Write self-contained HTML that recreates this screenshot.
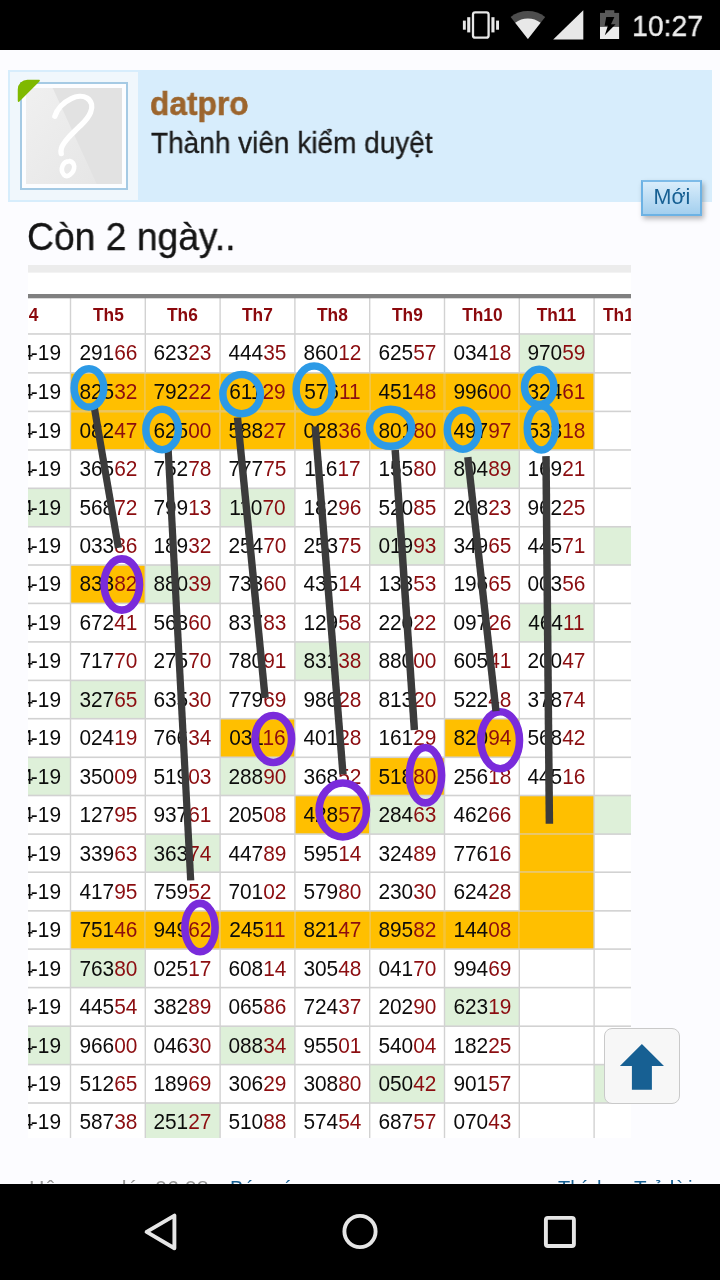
<!DOCTYPE html>
<html lang="vi">
<head>
<meta charset="utf-8">
<title>datpro</title>
<style>
html,body{margin:0;padding:0}
body{width:720px;height:1280px;overflow:hidden;position:relative;background:#fcfcff;
  font-family:"Liberation Sans",sans-serif;color:#141414}
.abs{position:absolute}
/* status bar */
#status{position:absolute;left:0;top:0;width:720px;height:50px;background:#000}
#clock{will-change:transform;position:absolute;left:632.4px;top:7px;width:80px;height:36px;line-height:36px;
  font-size:30.4px;color:#ececec;white-space:nowrap;transform-origin:0 50%;transform:scaleX(.934);-webkit-text-stroke:.35px #ececec}
/* user card */
#card{position:absolute;left:8px;top:70px;width:704px;height:132px;background:#d7edfc}
#avh{position:absolute;left:2px;top:2px;width:128px;height:128px;background:#f0f7fc}
#avf{position:absolute;left:10px;top:10px;width:104px;height:104px;border:2px solid #a5cae4;background:#fcfdff}
#avi{position:absolute;left:4px;top:4px;width:96px;height:96px;background:#e2e2e2}
#uname{will-change:transform;position:absolute;left:142.4px;top:13.6px;font-weight:bold;font-size:33px;line-height:40px;color:#9c652d;-webkit-text-stroke:.5px #9c652d;
  white-space:nowrap;transform-origin:0 50%;transform:scaleX(.96)}
#utitle{will-change:transform;position:absolute;left:142.6px;top:55px;font-size:28.6px;line-height:36px;color:#1b1b1b;-webkit-text-stroke:.3px #1b1b1b;
  white-space:nowrap;transform-origin:0 50%;transform:scaleX(.979)}
#new{will-change:transform;position:absolute;left:641px;top:180px;width:57px;height:31.5px;border:2px solid #6cb2e4;border-top-color:#7dbbe8;
  background:linear-gradient(#d9edfb,#a3cfee);box-shadow:2px 3px 5px rgba(0,0,0,.28);
  font-size:22.2px;line-height:29.4px;text-align:center;color:#176093}
#new span{display:inline-block;transform:scaleX(.97)}
#msg{will-change:transform;position:absolute;left:27.4px;top:214px;font-size:38px;line-height:46px;color:#141414;-webkit-text-stroke:.35px #141414;white-space:nowrap;
  transform-origin:0 50%;transform:scaleX(.981)}
/* image */
#img{position:absolute;left:28px;top:265px;width:603px;height:873px;overflow:hidden;background:#fff}
#img svg.grid{position:absolute;left:0;top:0;display:block}
#cells{position:absolute;left:0;top:0;width:603px;height:873px;will-change:transform}
.c{position:absolute;text-align:center;font-size:21.8px;color:#0c0c0c;white-space:nowrap;transform:scaleX(.957)}
.c.d{transform-origin:100% 50%}
.c u{text-decoration:none;letter-spacing:-2.4px}
.c i{font-style:normal;color:#8b0d10}
.c.h{font-weight:bold;font-size:19px;color:#8b080c;transform:scaleX(.912)}
#annot{position:absolute;left:0;top:0;width:720px;height:1280px;pointer-events:none}
/* footer of post */
#foot{will-change:transform;position:absolute;left:0;top:1173px;width:720px;height:30px;font-size:20px;line-height:30px;white-space:nowrap}
#foot span{position:absolute;top:0;transform-origin:0 50%}
/* nav bar */
#nav{position:absolute;left:0;top:1184px;width:720px;height:96px;background:#000}
#top{position:absolute;left:604.3px;top:1028.1px;width:73.8px;height:73.6px;border:1px solid #c9c9c9;border-radius:8px;background:#f7f7f7;overflow:hidden}
</style>
</head>
<body>
<!-- ===== status bar ===== -->
<div id="status">
<svg class="abs" style="left:0;top:0" width="720" height="50" viewBox="0 0 720 50">
  <!-- vibrate -->
  <rect x="473" y="12.4" width="15.6" height="25.2" rx="2.2" fill="none" stroke="#e8e8e8" stroke-width="2.3"/>
  <rect x="467.2" y="17.2" width="3.1" height="15.2" fill="#e8e8e8"/>
  <rect x="491.4" y="17.2" width="3.1" height="15.2" fill="#e8e8e8"/>
  <rect x="462.9" y="20.6" width="2.9" height="9.1" fill="#e8e8e8"/>
  <rect x="496.1" y="20.6" width="2.9" height="9.1" fill="#e8e8e8"/>
  <!-- wifi -->
  <path d="M510.6 17 A28 28 0 0 1 545.2 17 L527.9 38.9 Z" fill="#4d4d4d"/>
  <path d="M515.2 22.8 A20.5 20.5 0 0 1 540.6 22.8 L527.9 38.9 Z" fill="#e8e8e8"/>
  <!-- signal -->
  <path d="M553.2 39.6 L583.3 39.6 L583.3 10.2 Z" fill="#e8e8e8"/>
  <!-- battery -->
  <rect x="605" y="10.2" width="9.3" height="4" fill="#595959"/>
  <rect x="600" y="12.9" width="19.1" height="14.2" fill="#595959"/>
  <rect x="600" y="26.9" width="19.1" height="12.1" fill="#ececec"/>
  <path d="M606.25 17.1 L614.4 17.1 L611 24.2 L615.6 24.2 L604.8 35.2 L607.9 25.8 L604.6 25.8 Z" fill="#000"/>
</svg>

<div id="clock">10:27</div>
</div>

<!-- ===== user card ===== -->
<div id="card">
  <div id="avh">
    <div id="avf"><div id="avi"><svg class="abs" style="left:0;top:0" width="96" height="96" viewBox="0 0 96 96">
  <defs><linearGradient id="avg" x1="0" y1="0" x2="1" y2="1"><stop offset="0" stop-color="#f0f0f0"/><stop offset="1" stop-color="#e6e6e6"/></linearGradient></defs>
  <path d="M0 0 L26.7 0 L70.7 96 L0 96 Z" fill="url(#avg)"/>
  <path d="M28.9 28.2 C31 21.5 37 14.6 45.3 10.6 C50 8.2 56.6 7.4 61 10 C66 13.2 66.8 19 64.6 24.2 C62 31 57 35 53.3 38.7 C48 44 45 46.5 42.7 49.3 C39 53.5 36.6 56.5 35.5 60 C34.8 62.3 34.8 64 35.2 65.6" fill="none" stroke="#fff" stroke-width="5.4" stroke-linecap="round"/>
  <path d="M43.8 73.2 C40.6 73 38 74.6 36.8 77.2 C35.4 80.4 35.8 84.2 37.8 86.6 C39.6 88.6 42 88.4 44 86.8 C46.8 84.6 48.4 81.4 48.2 78.2 C48 75.6 46.2 73.8 43.6 73" fill="none" stroke="#fff" stroke-width="4.6" stroke-linecap="round"/>
</svg>
</div></div>
    <svg class="abs" style="left:7px;top:7px" width="26" height="26" viewBox="17 79 26 26">
  <path d="M19.4 101.4 C18.4 102.4 17.75 101.8 17.75 100.6 L17.75 89.5 A9.75 9.75 0 0 1 27.5 79.75 L38.6 79.75 C39.8 79.75 40.4 80.4 39.4 81.4 Z" fill="#7fb900"/>
</svg>

  </div>
  <div id="uname">datpro</div>
  <div id="utitle">Thành viên kiểm duyệt</div>
</div>
<div id="new"><span>Mới</span></div>

<div id="msg">Còn 2 ngày..</div>

<!-- ===== table image ===== -->
<div id="img">
<svg class="grid" width="603" height="873" viewBox="28 265 603 873">
<rect x="28" y="265" width="603" height="873" fill="#fff"/>
<rect x="28" y="265" width="603" height="7.6" fill="#ececec"/>
<rect x="519.30" y="333.97" width="74.80" height="38.88" fill="#def0d9"/>
<rect x="70.50" y="372.85" width="74.80" height="38.55" fill="#ffbf00"/>
<rect x="70.50" y="411.40" width="74.80" height="38.57" fill="#ffbf00"/>
<rect x="70.50" y="910.86" width="74.80" height="38.24" fill="#ffbf00"/>
<rect x="145.30" y="372.85" width="74.80" height="38.55" fill="#ffbf00"/>
<rect x="145.30" y="411.40" width="74.80" height="38.57" fill="#ffbf00"/>
<rect x="145.30" y="910.86" width="74.80" height="38.24" fill="#ffbf00"/>
<rect x="220.10" y="372.85" width="74.80" height="38.55" fill="#ffbf00"/>
<rect x="220.10" y="411.40" width="74.80" height="38.57" fill="#ffbf00"/>
<rect x="220.10" y="910.86" width="74.80" height="38.24" fill="#ffbf00"/>
<rect x="294.90" y="372.85" width="74.80" height="38.55" fill="#ffbf00"/>
<rect x="294.90" y="411.40" width="74.80" height="38.57" fill="#ffbf00"/>
<rect x="294.90" y="910.86" width="74.80" height="38.24" fill="#ffbf00"/>
<rect x="369.70" y="372.85" width="74.80" height="38.55" fill="#ffbf00"/>
<rect x="369.70" y="411.40" width="74.80" height="38.57" fill="#ffbf00"/>
<rect x="369.70" y="910.86" width="74.80" height="38.24" fill="#ffbf00"/>
<rect x="444.50" y="372.85" width="74.80" height="38.55" fill="#ffbf00"/>
<rect x="444.50" y="411.40" width="74.80" height="38.57" fill="#ffbf00"/>
<rect x="444.50" y="910.86" width="74.80" height="38.24" fill="#ffbf00"/>
<rect x="519.30" y="372.85" width="74.80" height="38.55" fill="#ffbf00"/>
<rect x="519.30" y="411.40" width="74.80" height="38.57" fill="#ffbf00"/>
<rect x="519.30" y="910.86" width="74.80" height="38.24" fill="#ffbf00"/>
<rect x="444.50" y="449.97" width="74.80" height="38.33" fill="#def0d9"/>
<rect x="-25.50" y="488.30" width="96.00" height="38.46" fill="#def0d9"/>
<rect x="220.10" y="488.30" width="74.80" height="38.46" fill="#def0d9"/>
<rect x="369.70" y="526.76" width="74.80" height="38.24" fill="#def0d9"/>
<rect x="594.10" y="526.76" width="74.80" height="38.24" fill="#def0d9"/>
<rect x="70.50" y="565.00" width="74.80" height="38.40" fill="#ffbf00"/>
<rect x="145.30" y="565.00" width="74.80" height="38.40" fill="#def0d9"/>
<rect x="519.30" y="603.40" width="74.80" height="38.50" fill="#def0d9"/>
<rect x="294.90" y="641.90" width="74.80" height="38.50" fill="#def0d9"/>
<rect x="70.50" y="680.40" width="74.80" height="38.30" fill="#def0d9"/>
<rect x="220.10" y="718.70" width="74.80" height="38.60" fill="#ffbf00"/>
<rect x="444.50" y="718.70" width="74.80" height="38.60" fill="#ffbf00"/>
<rect x="-25.50" y="757.30" width="96.00" height="38.20" fill="#def0d9"/>
<rect x="220.10" y="757.30" width="74.80" height="38.20" fill="#def0d9"/>
<rect x="369.70" y="757.30" width="74.80" height="38.20" fill="#ffbf00"/>
<rect x="294.90" y="795.50" width="74.80" height="38.60" fill="#ffbf00"/>
<rect x="369.70" y="795.50" width="74.80" height="38.60" fill="#def0d9"/>
<rect x="519.30" y="795.50" width="74.80" height="38.60" fill="#ffbf00"/>
<rect x="594.10" y="795.50" width="74.80" height="38.60" fill="#def0d9"/>
<rect x="145.30" y="834.10" width="74.80" height="38.10" fill="#def0d9"/>
<rect x="519.30" y="834.10" width="74.80" height="38.10" fill="#ffbf00"/>
<rect x="519.30" y="872.20" width="74.80" height="38.66" fill="#ffbf00"/>
<rect x="70.50" y="949.10" width="74.80" height="38.50" fill="#def0d9"/>
<rect x="444.50" y="987.60" width="74.80" height="38.60" fill="#def0d9"/>
<rect x="-25.50" y="1026.20" width="96.00" height="38.40" fill="#def0d9"/>
<rect x="220.10" y="1026.20" width="74.80" height="38.40" fill="#def0d9"/>
<rect x="369.70" y="1064.60" width="74.80" height="38.40" fill="#def0d9"/>
<rect x="594.10" y="1064.60" width="74.80" height="38.40" fill="#def0d9"/>
<rect x="145.30" y="1103.00" width="74.80" height="38.50" fill="#def0d9"/>
<rect x="69.80" y="298" width="1.4" height="844" fill="#d2d2d2"/>
<rect x="144.60" y="298" width="1.4" height="844" fill="#d2d2d2"/>
<rect x="219.40" y="298" width="1.4" height="844" fill="#d2d2d2"/>
<rect x="294.20" y="298" width="1.4" height="844" fill="#d2d2d2"/>
<rect x="369.00" y="298" width="1.4" height="844" fill="#d2d2d2"/>
<rect x="443.80" y="298" width="1.4" height="844" fill="#d2d2d2"/>
<rect x="518.60" y="298" width="1.4" height="844" fill="#d2d2d2"/>
<rect x="593.40" y="298" width="1.4" height="844" fill="#d2d2d2"/>
<rect x="668.20" y="298" width="1.4" height="844" fill="#d2d2d2"/>
<rect x="28" y="333.17" width="603" height="1.6" fill="#d2d2d2"/>
<rect x="28" y="372.05" width="603" height="1.6" fill="#d2d2d2"/>
<rect x="28" y="410.60" width="603" height="1.6" fill="#d2d2d2"/>
<rect x="28" y="449.17" width="603" height="1.6" fill="#d2d2d2"/>
<rect x="28" y="487.50" width="603" height="1.6" fill="#d2d2d2"/>
<rect x="28" y="525.96" width="603" height="1.6" fill="#d2d2d2"/>
<rect x="28" y="564.20" width="603" height="1.6" fill="#d2d2d2"/>
<rect x="28" y="602.60" width="603" height="1.6" fill="#d2d2d2"/>
<rect x="28" y="641.10" width="603" height="1.6" fill="#d2d2d2"/>
<rect x="28" y="679.60" width="603" height="1.6" fill="#d2d2d2"/>
<rect x="28" y="717.90" width="603" height="1.6" fill="#d2d2d2"/>
<rect x="28" y="756.50" width="603" height="1.6" fill="#d2d2d2"/>
<rect x="28" y="794.70" width="603" height="1.6" fill="#d2d2d2"/>
<rect x="28" y="833.30" width="603" height="1.6" fill="#d2d2d2"/>
<rect x="28" y="871.40" width="603" height="1.6" fill="#d2d2d2"/>
<rect x="28" y="910.06" width="603" height="1.6" fill="#d2d2d2"/>
<rect x="28" y="948.30" width="603" height="1.6" fill="#d2d2d2"/>
<rect x="28" y="986.80" width="603" height="1.6" fill="#d2d2d2"/>
<rect x="28" y="1025.40" width="603" height="1.6" fill="#d2d2d2"/>
<rect x="28" y="1063.80" width="603" height="1.6" fill="#d2d2d2"/>
<rect x="28" y="1102.20" width="603" height="1.6" fill="#d2d2d2"/>
<rect x="28" y="1140.70" width="603" height="1.6" fill="#d2d2d2"/>
<rect x="144.60" y="373.65" width="1.4" height="36.95" fill="#f7c433"/>
<rect x="71.20" y="410.60" width="74.80" height="1.6" fill="#ecc55f"/>
<rect x="144.60" y="412.20" width="1.4" height="36.97" fill="#f7c433"/>
<rect x="144.60" y="911.66" width="1.4" height="36.64" fill="#f7c433"/>
<rect x="219.40" y="373.65" width="1.4" height="36.95" fill="#f7c433"/>
<rect x="144.60" y="410.60" width="76.20" height="1.6" fill="#ecc55f"/>
<rect x="219.40" y="412.20" width="1.4" height="36.97" fill="#f7c433"/>
<rect x="219.40" y="911.66" width="1.4" height="36.64" fill="#f7c433"/>
<rect x="294.20" y="373.65" width="1.4" height="36.95" fill="#f7c433"/>
<rect x="219.40" y="410.60" width="76.20" height="1.6" fill="#ecc55f"/>
<rect x="294.20" y="412.20" width="1.4" height="36.97" fill="#f7c433"/>
<rect x="294.20" y="911.66" width="1.4" height="36.64" fill="#f7c433"/>
<rect x="369.00" y="373.65" width="1.4" height="36.95" fill="#f7c433"/>
<rect x="294.20" y="410.60" width="76.20" height="1.6" fill="#ecc55f"/>
<rect x="369.00" y="412.20" width="1.4" height="36.97" fill="#f7c433"/>
<rect x="369.00" y="911.66" width="1.4" height="36.64" fill="#f7c433"/>
<rect x="443.80" y="373.65" width="1.4" height="36.95" fill="#f7c433"/>
<rect x="369.00" y="410.60" width="76.20" height="1.6" fill="#ecc55f"/>
<rect x="443.80" y="412.20" width="1.4" height="36.97" fill="#f7c433"/>
<rect x="443.80" y="911.66" width="1.4" height="36.64" fill="#f7c433"/>
<rect x="518.60" y="373.65" width="1.4" height="36.95" fill="#f7c433"/>
<rect x="443.80" y="410.60" width="76.20" height="1.6" fill="#ecc55f"/>
<rect x="518.60" y="412.20" width="1.4" height="36.97" fill="#f7c433"/>
<rect x="518.60" y="911.66" width="1.4" height="36.64" fill="#f7c433"/>
<rect x="518.60" y="410.60" width="74.80" height="1.6" fill="#ecc55f"/>
<rect x="520.00" y="833.30" width="73.40" height="1.6" fill="#ecc55f"/>
<rect x="520.00" y="871.40" width="73.40" height="1.6" fill="#ecc55f"/>
<rect x="520.00" y="910.06" width="73.40" height="1.6" fill="#ecc55f"/>
<rect x="28" y="294" width="603" height="4.3" fill="#808080"/>
</svg>
<div id="cells">
<div class="c h" style="left:-53.50px;top:32.00px;width:96.00px;height:35.97px;line-height:35.97px">Th4</div>
<div class="c h" style="left:42.50px;top:32.00px;width:74.80px;height:35.97px;line-height:35.97px">Th5</div>
<div class="c h" style="left:117.30px;top:32.00px;width:74.80px;height:35.97px;line-height:35.97px">Th6</div>
<div class="c h" style="left:192.10px;top:32.00px;width:74.80px;height:35.97px;line-height:35.97px">Th7</div>
<div class="c h" style="left:266.90px;top:32.00px;width:74.80px;height:35.97px;line-height:35.97px">Th8</div>
<div class="c h" style="left:341.70px;top:32.00px;width:74.80px;height:35.97px;line-height:35.97px">Th9</div>
<div class="c h" style="left:416.50px;top:32.00px;width:74.80px;height:35.97px;line-height:35.97px">Th10</div>
<div class="c h" style="left:491.30px;top:32.00px;width:74.80px;height:35.97px;line-height:35.97px">Th11</div>
<div class="c h" style="left:575.40px;top:32.00px;transform-origin:0 50%;height:35.97px;line-height:35.97px;text-align:left">Th12</div>
<div class="c d" style="left:-86.60px;top:69.37px;width:120px;height:38.879999999999995px;line-height:38.879999999999995px;text-align:right">01-0<u>4</u>-19</div>
<div class="c" style="left:42.50px;top:69.37px;width:74.80px;height:38.88px;line-height:38.88px">291<i>66</i></div>
<div class="c" style="left:117.30px;top:69.37px;width:74.80px;height:38.88px;line-height:38.88px">623<i>23</i></div>
<div class="c" style="left:192.10px;top:69.37px;width:74.80px;height:38.88px;line-height:38.88px">444<i>35</i></div>
<div class="c" style="left:266.90px;top:69.37px;width:74.80px;height:38.88px;line-height:38.88px">860<i>12</i></div>
<div class="c" style="left:341.70px;top:69.37px;width:74.80px;height:38.88px;line-height:38.88px">625<i>57</i></div>
<div class="c" style="left:416.50px;top:69.37px;width:74.80px;height:38.88px;line-height:38.88px">034<i>18</i></div>
<div class="c" style="left:491.30px;top:69.37px;width:74.80px;height:38.88px;line-height:38.88px">970<i>59</i></div>
<div class="c d" style="left:-86.60px;top:108.25px;width:120px;height:38.549999999999955px;line-height:38.549999999999955px;text-align:right">02-0<u>4</u>-19</div>
<div class="c" style="left:42.50px;top:108.25px;width:74.80px;height:38.55px;line-height:38.55px">825<i>32</i></div>
<div class="c" style="left:117.30px;top:108.25px;width:74.80px;height:38.55px;line-height:38.55px">792<i>22</i></div>
<div class="c" style="left:192.10px;top:108.25px;width:74.80px;height:38.55px;line-height:38.55px">611<i>29</i></div>
<div class="c" style="left:266.90px;top:108.25px;width:74.80px;height:38.55px;line-height:38.55px">576<i>11</i></div>
<div class="c" style="left:341.70px;top:108.25px;width:74.80px;height:38.55px;line-height:38.55px">451<i>48</i></div>
<div class="c" style="left:416.50px;top:108.25px;width:74.80px;height:38.55px;line-height:38.55px">996<i>00</i></div>
<div class="c" style="left:491.30px;top:108.25px;width:74.80px;height:38.55px;line-height:38.55px">324<i>61</i></div>
<div class="c d" style="left:-86.60px;top:146.80px;width:120px;height:38.57000000000005px;line-height:38.57000000000005px;text-align:right">03-0<u>4</u>-19</div>
<div class="c" style="left:42.50px;top:146.80px;width:74.80px;height:38.57px;line-height:38.57px">082<i>47</i></div>
<div class="c" style="left:117.30px;top:146.80px;width:74.80px;height:38.57px;line-height:38.57px">625<i>00</i></div>
<div class="c" style="left:192.10px;top:146.80px;width:74.80px;height:38.57px;line-height:38.57px">588<i>27</i></div>
<div class="c" style="left:266.90px;top:146.80px;width:74.80px;height:38.57px;line-height:38.57px">028<i>36</i></div>
<div class="c" style="left:341.70px;top:146.80px;width:74.80px;height:38.57px;line-height:38.57px">801<i>80</i></div>
<div class="c" style="left:416.50px;top:146.80px;width:74.80px;height:38.57px;line-height:38.57px">497<i>97</i></div>
<div class="c" style="left:491.30px;top:146.80px;width:74.80px;height:38.57px;line-height:38.57px">538<i>18</i></div>
<div class="c d" style="left:-86.60px;top:185.37px;width:120px;height:38.329999999999984px;line-height:38.329999999999984px;text-align:right">04-0<u>4</u>-19</div>
<div class="c" style="left:42.50px;top:185.37px;width:74.80px;height:38.33px;line-height:38.33px">365<i>62</i></div>
<div class="c" style="left:117.30px;top:185.37px;width:74.80px;height:38.33px;line-height:38.33px">752<i>78</i></div>
<div class="c" style="left:192.10px;top:185.37px;width:74.80px;height:38.33px;line-height:38.33px">777<i>75</i></div>
<div class="c" style="left:266.90px;top:185.37px;width:74.80px;height:38.33px;line-height:38.33px">116<i>17</i></div>
<div class="c" style="left:341.70px;top:185.37px;width:74.80px;height:38.33px;line-height:38.33px">155<i>80</i></div>
<div class="c" style="left:416.50px;top:185.37px;width:74.80px;height:38.33px;line-height:38.33px">804<i>89</i></div>
<div class="c" style="left:491.30px;top:185.37px;width:74.80px;height:38.33px;line-height:38.33px">169<i>21</i></div>
<div class="c d" style="left:-86.60px;top:223.70px;width:120px;height:38.45999999999998px;line-height:38.45999999999998px;text-align:right">05-0<u>4</u>-19</div>
<div class="c" style="left:42.50px;top:223.70px;width:74.80px;height:38.46px;line-height:38.46px">568<i>72</i></div>
<div class="c" style="left:117.30px;top:223.70px;width:74.80px;height:38.46px;line-height:38.46px">799<i>13</i></div>
<div class="c" style="left:192.10px;top:223.70px;width:74.80px;height:38.46px;line-height:38.46px">110<i>70</i></div>
<div class="c" style="left:266.90px;top:223.70px;width:74.80px;height:38.46px;line-height:38.46px">182<i>96</i></div>
<div class="c" style="left:341.70px;top:223.70px;width:74.80px;height:38.46px;line-height:38.46px">520<i>85</i></div>
<div class="c" style="left:416.50px;top:223.70px;width:74.80px;height:38.46px;line-height:38.46px">208<i>23</i></div>
<div class="c" style="left:491.30px;top:223.70px;width:74.80px;height:38.46px;line-height:38.46px">962<i>25</i></div>
<div class="c d" style="left:-86.60px;top:262.16px;width:120px;height:38.24000000000001px;line-height:38.24000000000001px;text-align:right">06-0<u>4</u>-19</div>
<div class="c" style="left:42.50px;top:262.16px;width:74.80px;height:38.24px;line-height:38.24px">033<i>86</i></div>
<div class="c" style="left:117.30px;top:262.16px;width:74.80px;height:38.24px;line-height:38.24px">189<i>32</i></div>
<div class="c" style="left:192.10px;top:262.16px;width:74.80px;height:38.24px;line-height:38.24px">254<i>70</i></div>
<div class="c" style="left:266.90px;top:262.16px;width:74.80px;height:38.24px;line-height:38.24px">253<i>75</i></div>
<div class="c" style="left:341.70px;top:262.16px;width:74.80px;height:38.24px;line-height:38.24px">019<i>93</i></div>
<div class="c" style="left:416.50px;top:262.16px;width:74.80px;height:38.24px;line-height:38.24px">349<i>65</i></div>
<div class="c" style="left:491.30px;top:262.16px;width:74.80px;height:38.24px;line-height:38.24px">445<i>71</i></div>
<div class="c d" style="left:-86.60px;top:300.40px;width:120px;height:38.39999999999998px;line-height:38.39999999999998px;text-align:right">07-0<u>4</u>-19</div>
<div class="c" style="left:42.50px;top:300.40px;width:74.80px;height:38.40px;line-height:38.40px">833<i>82</i></div>
<div class="c" style="left:117.30px;top:300.40px;width:74.80px;height:38.40px;line-height:38.40px">880<i>39</i></div>
<div class="c" style="left:192.10px;top:300.40px;width:74.80px;height:38.40px;line-height:38.40px">733<i>60</i></div>
<div class="c" style="left:266.90px;top:300.40px;width:74.80px;height:38.40px;line-height:38.40px">435<i>14</i></div>
<div class="c" style="left:341.70px;top:300.40px;width:74.80px;height:38.40px;line-height:38.40px">133<i>53</i></div>
<div class="c" style="left:416.50px;top:300.40px;width:74.80px;height:38.40px;line-height:38.40px">196<i>65</i></div>
<div class="c" style="left:491.30px;top:300.40px;width:74.80px;height:38.40px;line-height:38.40px">003<i>56</i></div>
<div class="c d" style="left:-86.60px;top:338.80px;width:120px;height:38.5px;line-height:38.5px;text-align:right">08-0<u>4</u>-19</div>
<div class="c" style="left:42.50px;top:338.80px;width:74.80px;height:38.50px;line-height:38.50px">672<i>41</i></div>
<div class="c" style="left:117.30px;top:338.80px;width:74.80px;height:38.50px;line-height:38.50px">563<i>60</i></div>
<div class="c" style="left:192.10px;top:338.80px;width:74.80px;height:38.50px;line-height:38.50px">837<i>83</i></div>
<div class="c" style="left:266.90px;top:338.80px;width:74.80px;height:38.50px;line-height:38.50px">129<i>58</i></div>
<div class="c" style="left:341.70px;top:338.80px;width:74.80px;height:38.50px;line-height:38.50px">220<i>22</i></div>
<div class="c" style="left:416.50px;top:338.80px;width:74.80px;height:38.50px;line-height:38.50px">097<i>26</i></div>
<div class="c" style="left:491.30px;top:338.80px;width:74.80px;height:38.50px;line-height:38.50px">464<i>11</i></div>
<div class="c d" style="left:-86.60px;top:377.30px;width:120px;height:38.5px;line-height:38.5px;text-align:right">09-0<u>4</u>-19</div>
<div class="c" style="left:42.50px;top:377.30px;width:74.80px;height:38.50px;line-height:38.50px">717<i>70</i></div>
<div class="c" style="left:117.30px;top:377.30px;width:74.80px;height:38.50px;line-height:38.50px">275<i>70</i></div>
<div class="c" style="left:192.10px;top:377.30px;width:74.80px;height:38.50px;line-height:38.50px">780<i>91</i></div>
<div class="c" style="left:266.90px;top:377.30px;width:74.80px;height:38.50px;line-height:38.50px">831<i>38</i></div>
<div class="c" style="left:341.70px;top:377.30px;width:74.80px;height:38.50px;line-height:38.50px">880<i>00</i></div>
<div class="c" style="left:416.50px;top:377.30px;width:74.80px;height:38.50px;line-height:38.50px">605<i>41</i></div>
<div class="c" style="left:491.30px;top:377.30px;width:74.80px;height:38.50px;line-height:38.50px">200<i>47</i></div>
<div class="c d" style="left:-86.60px;top:415.80px;width:120px;height:38.30000000000007px;line-height:38.30000000000007px;text-align:right">10-0<u>4</u>-19</div>
<div class="c" style="left:42.50px;top:415.80px;width:74.80px;height:38.30px;line-height:38.30px">327<i>65</i></div>
<div class="c" style="left:117.30px;top:415.80px;width:74.80px;height:38.30px;line-height:38.30px">635<i>30</i></div>
<div class="c" style="left:192.10px;top:415.80px;width:74.80px;height:38.30px;line-height:38.30px">779<i>69</i></div>
<div class="c" style="left:266.90px;top:415.80px;width:74.80px;height:38.30px;line-height:38.30px">986<i>28</i></div>
<div class="c" style="left:341.70px;top:415.80px;width:74.80px;height:38.30px;line-height:38.30px">813<i>20</i></div>
<div class="c" style="left:416.50px;top:415.80px;width:74.80px;height:38.30px;line-height:38.30px">522<i>48</i></div>
<div class="c" style="left:491.30px;top:415.80px;width:74.80px;height:38.30px;line-height:38.30px">378<i>74</i></div>
<div class="c d" style="left:-86.60px;top:454.10px;width:120px;height:38.59999999999991px;line-height:38.59999999999991px;text-align:right">11-0<u>4</u>-19</div>
<div class="c" style="left:42.50px;top:454.10px;width:74.80px;height:38.60px;line-height:38.60px">024<i>19</i></div>
<div class="c" style="left:117.30px;top:454.10px;width:74.80px;height:38.60px;line-height:38.60px">766<i>34</i></div>
<div class="c" style="left:192.10px;top:454.10px;width:74.80px;height:38.60px;line-height:38.60px">031<i>16</i></div>
<div class="c" style="left:266.90px;top:454.10px;width:74.80px;height:38.60px;line-height:38.60px">401<i>28</i></div>
<div class="c" style="left:341.70px;top:454.10px;width:74.80px;height:38.60px;line-height:38.60px">161<i>29</i></div>
<div class="c" style="left:416.50px;top:454.10px;width:74.80px;height:38.60px;line-height:38.60px">820<i>94</i></div>
<div class="c" style="left:491.30px;top:454.10px;width:74.80px;height:38.60px;line-height:38.60px">568<i>42</i></div>
<div class="c d" style="left:-86.60px;top:492.70px;width:120px;height:38.200000000000045px;line-height:38.200000000000045px;text-align:right">12-0<u>4</u>-19</div>
<div class="c" style="left:42.50px;top:492.70px;width:74.80px;height:38.20px;line-height:38.20px">350<i>09</i></div>
<div class="c" style="left:117.30px;top:492.70px;width:74.80px;height:38.20px;line-height:38.20px">519<i>03</i></div>
<div class="c" style="left:192.10px;top:492.70px;width:74.80px;height:38.20px;line-height:38.20px">288<i>90</i></div>
<div class="c" style="left:266.90px;top:492.70px;width:74.80px;height:38.20px;line-height:38.20px">368<i>52</i></div>
<div class="c" style="left:341.70px;top:492.70px;width:74.80px;height:38.20px;line-height:38.20px">518<i>80</i></div>
<div class="c" style="left:416.50px;top:492.70px;width:74.80px;height:38.20px;line-height:38.20px">256<i>18</i></div>
<div class="c" style="left:491.30px;top:492.70px;width:74.80px;height:38.20px;line-height:38.20px">445<i>16</i></div>
<div class="c d" style="left:-86.60px;top:530.90px;width:120px;height:38.60000000000002px;line-height:38.60000000000002px;text-align:right">13-0<u>4</u>-19</div>
<div class="c" style="left:42.50px;top:530.90px;width:74.80px;height:38.60px;line-height:38.60px">127<i>95</i></div>
<div class="c" style="left:117.30px;top:530.90px;width:74.80px;height:38.60px;line-height:38.60px">937<i>61</i></div>
<div class="c" style="left:192.10px;top:530.90px;width:74.80px;height:38.60px;line-height:38.60px">205<i>08</i></div>
<div class="c" style="left:266.90px;top:530.90px;width:74.80px;height:38.60px;line-height:38.60px">428<i>57</i></div>
<div class="c" style="left:341.70px;top:530.90px;width:74.80px;height:38.60px;line-height:38.60px">284<i>63</i></div>
<div class="c" style="left:416.50px;top:530.90px;width:74.80px;height:38.60px;line-height:38.60px">462<i>66</i></div>
<div class="c d" style="left:-86.60px;top:569.50px;width:120px;height:38.10000000000002px;line-height:38.10000000000002px;text-align:right">14-0<u>4</u>-19</div>
<div class="c" style="left:42.50px;top:569.50px;width:74.80px;height:38.10px;line-height:38.10px">339<i>63</i></div>
<div class="c" style="left:117.30px;top:569.50px;width:74.80px;height:38.10px;line-height:38.10px">363<i>74</i></div>
<div class="c" style="left:192.10px;top:569.50px;width:74.80px;height:38.10px;line-height:38.10px">447<i>89</i></div>
<div class="c" style="left:266.90px;top:569.50px;width:74.80px;height:38.10px;line-height:38.10px">595<i>14</i></div>
<div class="c" style="left:341.70px;top:569.50px;width:74.80px;height:38.10px;line-height:38.10px">324<i>89</i></div>
<div class="c" style="left:416.50px;top:569.50px;width:74.80px;height:38.10px;line-height:38.10px">776<i>16</i></div>
<div class="c d" style="left:-86.60px;top:607.60px;width:120px;height:38.65999999999997px;line-height:38.65999999999997px;text-align:right">15-0<u>4</u>-19</div>
<div class="c" style="left:42.50px;top:607.60px;width:74.80px;height:38.66px;line-height:38.66px">417<i>95</i></div>
<div class="c" style="left:117.30px;top:607.60px;width:74.80px;height:38.66px;line-height:38.66px">759<i>52</i></div>
<div class="c" style="left:192.10px;top:607.60px;width:74.80px;height:38.66px;line-height:38.66px">701<i>02</i></div>
<div class="c" style="left:266.90px;top:607.60px;width:74.80px;height:38.66px;line-height:38.66px">579<i>80</i></div>
<div class="c" style="left:341.70px;top:607.60px;width:74.80px;height:38.66px;line-height:38.66px">230<i>30</i></div>
<div class="c" style="left:416.50px;top:607.60px;width:74.80px;height:38.66px;line-height:38.66px">624<i>28</i></div>
<div class="c d" style="left:-86.60px;top:646.26px;width:120px;height:38.24000000000001px;line-height:38.24000000000001px;text-align:right">16-0<u>4</u>-19</div>
<div class="c" style="left:42.50px;top:646.26px;width:74.80px;height:38.24px;line-height:38.24px">751<i>46</i></div>
<div class="c" style="left:117.30px;top:646.26px;width:74.80px;height:38.24px;line-height:38.24px">949<i>62</i></div>
<div class="c" style="left:192.10px;top:646.26px;width:74.80px;height:38.24px;line-height:38.24px">245<i>11</i></div>
<div class="c" style="left:266.90px;top:646.26px;width:74.80px;height:38.24px;line-height:38.24px">821<i>47</i></div>
<div class="c" style="left:341.70px;top:646.26px;width:74.80px;height:38.24px;line-height:38.24px">895<i>82</i></div>
<div class="c" style="left:416.50px;top:646.26px;width:74.80px;height:38.24px;line-height:38.24px">144<i>08</i></div>
<div class="c d" style="left:-86.60px;top:684.50px;width:120px;height:38.5px;line-height:38.5px;text-align:right">17-0<u>4</u>-19</div>
<div class="c" style="left:42.50px;top:684.50px;width:74.80px;height:38.50px;line-height:38.50px">763<i>80</i></div>
<div class="c" style="left:117.30px;top:684.50px;width:74.80px;height:38.50px;line-height:38.50px">025<i>17</i></div>
<div class="c" style="left:192.10px;top:684.50px;width:74.80px;height:38.50px;line-height:38.50px">608<i>14</i></div>
<div class="c" style="left:266.90px;top:684.50px;width:74.80px;height:38.50px;line-height:38.50px">305<i>48</i></div>
<div class="c" style="left:341.70px;top:684.50px;width:74.80px;height:38.50px;line-height:38.50px">041<i>70</i></div>
<div class="c" style="left:416.50px;top:684.50px;width:74.80px;height:38.50px;line-height:38.50px">994<i>69</i></div>
<div class="c d" style="left:-86.60px;top:723.00px;width:120px;height:38.60000000000002px;line-height:38.60000000000002px;text-align:right">18-0<u>4</u>-19</div>
<div class="c" style="left:42.50px;top:723.00px;width:74.80px;height:38.60px;line-height:38.60px">445<i>54</i></div>
<div class="c" style="left:117.30px;top:723.00px;width:74.80px;height:38.60px;line-height:38.60px">382<i>89</i></div>
<div class="c" style="left:192.10px;top:723.00px;width:74.80px;height:38.60px;line-height:38.60px">065<i>86</i></div>
<div class="c" style="left:266.90px;top:723.00px;width:74.80px;height:38.60px;line-height:38.60px">724<i>37</i></div>
<div class="c" style="left:341.70px;top:723.00px;width:74.80px;height:38.60px;line-height:38.60px">202<i>90</i></div>
<div class="c" style="left:416.50px;top:723.00px;width:74.80px;height:38.60px;line-height:38.60px">623<i>19</i></div>
<div class="c d" style="left:-86.60px;top:761.60px;width:120px;height:38.399999999999864px;line-height:38.399999999999864px;text-align:right">19-0<u>4</u>-19</div>
<div class="c" style="left:42.50px;top:761.60px;width:74.80px;height:38.40px;line-height:38.40px">966<i>00</i></div>
<div class="c" style="left:117.30px;top:761.60px;width:74.80px;height:38.40px;line-height:38.40px">046<i>30</i></div>
<div class="c" style="left:192.10px;top:761.60px;width:74.80px;height:38.40px;line-height:38.40px">088<i>34</i></div>
<div class="c" style="left:266.90px;top:761.60px;width:74.80px;height:38.40px;line-height:38.40px">955<i>01</i></div>
<div class="c" style="left:341.70px;top:761.60px;width:74.80px;height:38.40px;line-height:38.40px">540<i>04</i></div>
<div class="c" style="left:416.50px;top:761.60px;width:74.80px;height:38.40px;line-height:38.40px">182<i>25</i></div>
<div class="c d" style="left:-86.60px;top:800.00px;width:120px;height:38.40000000000009px;line-height:38.40000000000009px;text-align:right">20-0<u>4</u>-19</div>
<div class="c" style="left:42.50px;top:800.00px;width:74.80px;height:38.40px;line-height:38.40px">512<i>65</i></div>
<div class="c" style="left:117.30px;top:800.00px;width:74.80px;height:38.40px;line-height:38.40px">189<i>69</i></div>
<div class="c" style="left:192.10px;top:800.00px;width:74.80px;height:38.40px;line-height:38.40px">306<i>29</i></div>
<div class="c" style="left:266.90px;top:800.00px;width:74.80px;height:38.40px;line-height:38.40px">308<i>80</i></div>
<div class="c" style="left:341.70px;top:800.00px;width:74.80px;height:38.40px;line-height:38.40px">050<i>42</i></div>
<div class="c" style="left:416.50px;top:800.00px;width:74.80px;height:38.40px;line-height:38.40px">901<i>57</i></div>
<div class="c d" style="left:-86.60px;top:838.40px;width:120px;height:38.5px;line-height:38.5px;text-align:right">21-0<u>4</u>-19</div>
<div class="c" style="left:42.50px;top:838.40px;width:74.80px;height:38.50px;line-height:38.50px">587<i>38</i></div>
<div class="c" style="left:117.30px;top:838.40px;width:74.80px;height:38.50px;line-height:38.50px">251<i>27</i></div>
<div class="c" style="left:192.10px;top:838.40px;width:74.80px;height:38.50px;line-height:38.50px">510<i>88</i></div>
<div class="c" style="left:266.90px;top:838.40px;width:74.80px;height:38.50px;line-height:38.50px">574<i>54</i></div>
<div class="c" style="left:341.70px;top:838.40px;width:74.80px;height:38.50px;line-height:38.50px">687<i>57</i></div>
<div class="c" style="left:416.50px;top:838.40px;width:74.80px;height:38.50px;line-height:38.50px">070<i>43</i></div>
</div>
</div>

<div id="foot">
  <span style="left:28.6px;color:#969696;transform:scaleX(1.07)">Hôm qua lúc 06:08</span>
  <span style="left:229.6px;color:#176093;transform:scaleX(1.01)">Báo cáo</span>
  <span style="left:558px;color:#176093">Thích</span>
  <span style="left:634px;color:#176093;transform:scaleX(1.03)">Trả lời</span>
</div>

<div id="top"><svg class="abs" style="left:-605.3px;top:-1029.1px" width="720" height="1280" viewBox="0 0 720 1280">
  <path d="M641.9 1044 L664 1066 L651.9 1066 L651.9 1089.7 L631.9 1089.7 L631.9 1066 L619.9 1066 Z" fill="#176093"/>
</svg>
</div>

<svg id="annot" width="720" height="1280" viewBox="0 0 720 1280">
<g stroke="#7a2bdb" stroke-width="7.6" fill="none">
<ellipse cx="121.8" cy="584.5" rx="17.70" ry="25.60"/>
<ellipse cx="273.3" cy="739" rx="18.30" ry="23.50"/>
<ellipse cx="342.8" cy="810" rx="23.70" ry="27.00"/>
<ellipse cx="425.5" cy="775.2" rx="16.10" ry="27.70"/>
<ellipse cx="500.2" cy="740.2" rx="19.30" ry="28.50"/>
<ellipse cx="200" cy="927.6" rx="15.10" ry="24.20"/>
</g>
<g stroke="#3b3b3b" stroke-linecap="butt" fill="none">
<line x1="94.3" y1="407.5" x2="118.4" y2="547.8" stroke-width="7.2"/>
<line x1="168.2" y1="450" x2="190.7" y2="880.4" stroke-width="7.2"/>
<line x1="237.5" y1="417.5" x2="265.1" y2="697.8" stroke-width="7.4"/>
<line x1="315.2" y1="426.4" x2="343" y2="774.3" stroke-width="7.4"/>
<line x1="395.2" y1="449.9" x2="414.4" y2="730" stroke-width="7.5"/>
<line x1="467.8" y1="457.2" x2="496" y2="711.2" stroke-width="7.4"/>
<line x1="546" y1="456.1" x2="549.4" y2="823.8" stroke-width="7.5"/>
</g>
<g stroke="#2c9ae6" stroke-width="7.5" fill="none">
<ellipse cx="88.95" cy="387.9" rx="14.80" ry="19.15"/>
<ellipse cx="162.1" cy="429.4" rx="16.25" ry="20.25"/>
<ellipse cx="241.6" cy="394.1" rx="18.75" ry="19.55"/>
<ellipse cx="314.1" cy="389.1" rx="18.00" ry="23.15"/>
<ellipse cx="390.6" cy="427.7" rx="21.05" ry="18.55"/>
<ellipse cx="462.9" cy="429.6" rx="15.65" ry="19.55"/>
<ellipse cx="539.2" cy="386.9" rx="14.65" ry="17.55"/>
<ellipse cx="541.35" cy="428" rx="14.10" ry="22.00"/>
</g>
</svg>

<!-- ===== nav bar ===== -->
<div id="nav">
<svg class="abs" style="left:0;top:0" width="720" height="96" viewBox="0 1184 720 96">
  <g fill="none" stroke="#e6e6e6" stroke-width="3.9" stroke-linejoin="round">
    <path d="M174.4 1215.6 L174.4 1248.2 L146.6 1231.9 Z"/>
    <circle cx="360" cy="1231.5" r="15.6"/>
    <rect x="545.9" y="1217.9" width="28" height="28.1" rx="2"/>
  </g>
</svg>

</div>
</body>
</html>
